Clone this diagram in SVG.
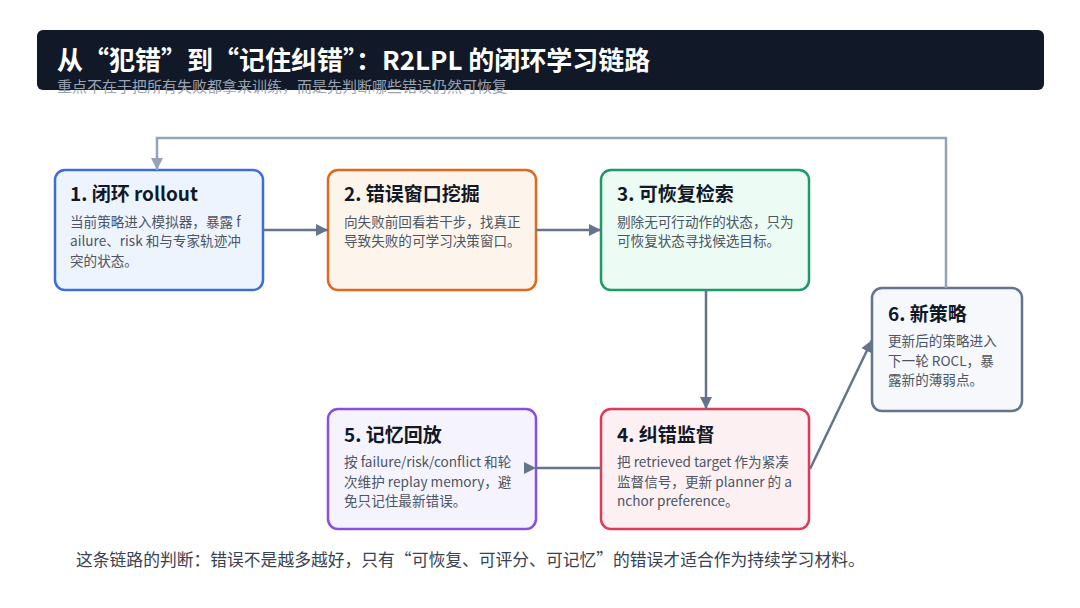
<svg xmlns="http://www.w3.org/2000/svg" width="1080" height="608" viewBox="0 0 1080 608">
<style>
text{font-family:"Noto Sans CJK SC","Noto Sans",sans-serif;}
.nt{font-size:19px;font-weight:700;fill:#111827;}
.nb{font-size:13.6px;fill:#4b5563;}
.box{stroke-width:2.5;}
.conn{stroke:#64748b;stroke-width:2.5;fill:none;}
.fb{stroke:#94a3b8;stroke-width:2.5;fill:none;}
</style>
<defs>
<marker id="ah" markerUnits="userSpaceOnUse" markerWidth="13" markerHeight="13" refX="12" refY="6" orient="auto"><path d="M0,0 L12,6 L0,12 z" fill="#64748b"/></marker>
<marker id="ahf" markerUnits="userSpaceOnUse" markerWidth="13" markerHeight="13" refX="12" refY="6" orient="auto"><path d="M0,0 L12,6 L0,12 z" fill="#94a3b8"/></marker>
<marker id="ahr" markerUnits="userSpaceOnUse" markerWidth="13" markerHeight="13" refX="12" refY="6" orient="0"><path d="M0,0 L12,6 L0,12 z" fill="#64748b"/></marker>
</defs>
<rect width="1080" height="608" fill="#ffffff"/>
<g id="header">
<rect x="37" y="30" width="1007" height="60" rx="6" fill="#111827"/>
<text x="57" y="70" font-size="26" font-weight="700" fill="#ffffff">从“犯错”到“记住纠错”：R2LPL 的闭环学习链路</text>
<text x="57" y="92" font-size="15" fill="#9aa3b2">重点不在于把所有失败都拿来训练，而是先判断哪些错误仍然可恢复</text>
</g>
<g id="n1">
<rect class="box" x="55" y="170" width="208" height="120" rx="10" fill="#eef4fe" stroke="#3b6fd8"/>
<text class="nt" x="70" y="201">1. 闭环 rollout</text>
<text class="nb" x="70" y="227">当前策略进入模拟器，暴露 f</text>
<text class="nb" x="70" y="246">ailure、risk 和与专家轨迹冲</text>
<text class="nb" x="70" y="266">突的状态。</text>
</g>
<g id="n2">
<rect class="box" x="328" y="170" width="208" height="120" rx="10" fill="#fdf5ec" stroke="#e0691f"/>
<text class="nt" x="344" y="201">2. 错误窗口挖掘</text>
<text class="nb" x="344" y="227">向失败前回看若干步，找真正</text>
<text class="nb" x="344" y="246">导致失败的可学习决策窗口。</text>
</g>
<g id="n3">
<rect class="box" x="601" y="170" width="208" height="120" rx="10" fill="#ecfbf4" stroke="#1e9a6a"/>
<text class="nt" x="617" y="201">3. 可恢复检索</text>
<text class="nb" x="617" y="227">剔除无可行动作的状态，只为</text>
<text class="nb" x="617" y="246">可恢复状态寻找候选目标。</text>
</g>
<g id="n4">
<rect class="box" x="601" y="409" width="208" height="120" rx="10" fill="#fdf0f2" stroke="#de3a5a"/>
<text class="nt" x="617" y="442">4. 纠错监督</text>
<text class="nb" x="617" y="467">把 retrieved target 作为紧凑</text>
<text class="nb" x="617" y="487">监督信号，更新 planner 的 a</text>
<text class="nb" x="617" y="506">nchor preference。</text>
</g>
<g id="n5">
<rect class="box" x="328" y="409" width="208" height="120" rx="10" fill="#f5f3fe" stroke="#8b4fe0"/>
<text class="nt" x="344" y="442">5. 记忆回放</text>
<text class="nb" x="344" y="467">按 failure/risk/conflict 和轮</text>
<text class="nb" x="344" y="487">次维护 replay memory，避</text>
<text class="nb" x="344" y="506">免只记住最新错误。</text>
</g>
<g id="n6">
<rect class="box" x="872" y="288" width="150" height="123" rx="10" fill="#f6f8fb" stroke="#64748b"/>
<text class="nt" x="888" y="321">6. 新策略</text>
<text class="nb" x="888" y="346">更新后的策略进入</text>
<text class="nb" x="888" y="366">下一轮 ROCL，暴</text>
<text class="nb" x="888" y="385">露新的薄弱点。</text>
</g>
<g id="connectors">
<line class="conn" x1="263" y1="230" x2="328" y2="230" marker-end="url(#ah)"/>
<line class="conn" x1="536" y1="230" x2="601" y2="230" marker-end="url(#ah)"/>
<line class="conn" x1="706" y1="290" x2="706" y2="409" marker-end="url(#ah)"/>
<line class="conn" x1="601" y1="468" x2="536" y2="468" marker-end="url(#ahr)"/>
<line class="conn" x1="810" y1="469" x2="872" y2="340" marker-end="url(#ah)"/>
<polyline class="fb" points="946,288 946,138 157,138 157,170" marker-end="url(#ahf)"/>
</g>
<text x="76" y="566" font-size="16.8" fill="#374151">这条链路的判断：错误不是越多越好，只有“可恢复、可评分、可记忆”的错误才适合作为持续学习材料。</text>
</svg>
